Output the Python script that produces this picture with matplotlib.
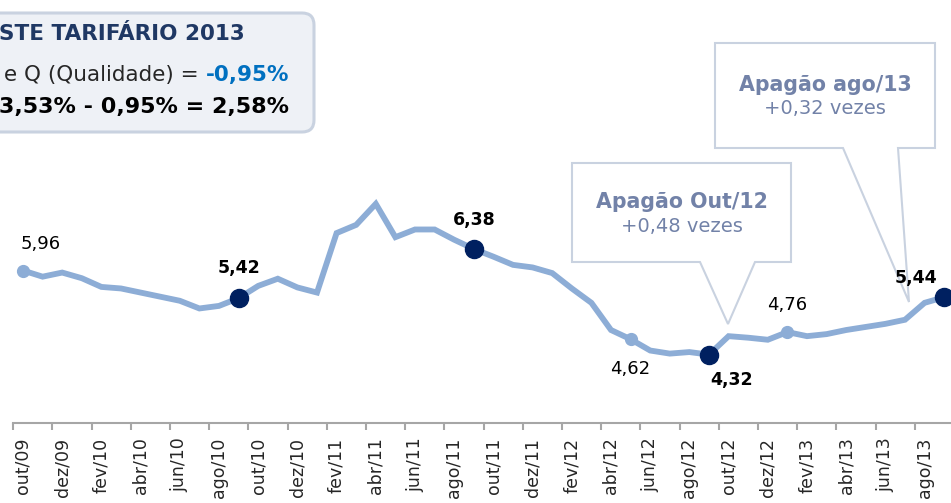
import matplotlib.pyplot as plt
from matplotlib.patches import FancyBboxPatch, Polygon

plt.rcParams['font.family'] = ['DejaVu Sans']

meses = ['out/09', 'nov/09', 'dez/09', 'jan/10', 'fev/10', 'mar/10', 'abr/10', 'mai/10',
         'jun/10', 'jul/10', 'ago/10', 'set/10', 'out/10', 'nov/10', 'dez/10', 'jan/11',
         'fev/11', 'mar/11', 'abr/11', 'mai/11', 'jun/11', 'jul/11', 'ago/11', 'set/11',
         'out/11', 'nov/11', 'dez/11', 'jan/12', 'fev/12', 'mar/12', 'abr/12', 'mai/12',
         'jun/12', 'jul/12', 'ago/12', 'set/12', 'out/12', 'nov/12', 'dez/12', 'jan/13',
         'fev/13', 'mar/13', 'abr/13', 'mai/13', 'jun/13', 'jul/13', 'ago/13', 'set/13']
valores = [5.96, 5.84, 5.92, 5.81, 5.64, 5.61, 5.53, 5.45, 5.37, 5.22, 5.27, 5.42,
           5.66, 5.80, 5.63, 5.53, 6.69, 6.85, 7.26, 6.61, 6.76, 6.76, 6.56, 6.38,
           6.23, 6.07, 6.02, 5.91, 5.61, 5.33, 4.80, 4.62, 4.40, 4.34, 4.37, 4.32,
           4.68, 4.65, 4.61, 4.76, 4.68, 4.72, 4.80, 4.86, 4.92, 5.00, 5.33, 5.44]
destaques = [11, 23, 35, 47]      # pontos escuros, rótulo em negrito
secundarios = [0, 31, 39]         # pontos claros, rótulo normal

# deslocamento dos rótulos (pixels)
desl = {0: (18, 27), 11: (0, 30), 23: (0, 29), 31: (0, -30),
        35: (23, -25), 39: (0, 27), 47: (-28, 19)}

azul_claro = '#8DADD6'
navy = '#002060'
cinza_caixa = '#C9D2E0'
texto_callout = '#7282A8'

fig = plt.figure(figsize=(9.51, 5.03), dpi=100)

# camada em pixels para caixa e balões (fica por baixo do gráfico)
ov = fig.add_axes([0, 0, 1, 1])
ov.set_xlim(0, 951)
ov.set_ylim(503, 0)
ov.axis('off')
ov.set_zorder(0)

ax = fig.add_axes([13.2 / 951, 80 / 503, 940.8 / 951, 423 / 503])
ax.set_zorder(1)
ax.patch.set_visible(False)

x = list(range(len(valores)))
ax.plot(x, valores, color=azul_claro, lw=4.2, solid_joinstyle='miter', zorder=2)
ax.plot(secundarios, [valores[i] for i in secundarios], 'o', color=azul_claro, ms=8.5, zorder=3)
ax.plot(destaques, [valores[i] for i in destaques], 'o', color=navy, ms=13, zorder=4)

for i in secundarios + destaques:
    bold = i in destaques
    txt = ('%.2f' % valores[i]).replace('.', ',')
    ax.annotate(txt, (i, valores[i]), xytext=desl[i], textcoords='offset pixels',
                ha='center', va='center', fontsize=12.5 if bold else 13,
                fontweight='bold' if bold else 'normal', color='black')

ax.set_xlim(-0.5, len(valores) - 0.5)
ax.set_ylim(2.987, 11.234)
for s in ['top', 'right', 'left']:
    ax.spines[s].set_visible(False)
ax.spines['bottom'].set_color('#A6A6A6')
ax.spines['bottom'].set_linewidth(1.5)
ax.set_yticks([])
ax.set_xticks([i - 0.5 for i in range(0, len(valores), 2)])
ax.set_xticklabels([])
ax.set_xticks(list(range(0, len(valores), 2)), minor=True)
ax.set_xticklabels(meses[::2], minor=True, rotation=90, fontsize=12.5, color='#262626')
ax.tick_params(axis='x', which='major', length=5, width=1.5, color='#A6A6A6')
ax.tick_params(axis='x', which='minor', length=0, pad=10.5)

caixa = FancyBboxPatch((-30, 13), 344, 119, boxstyle='round,pad=0,rounding_size=12',
                       fc='#EEF1F6', ec=cinza_caixa, lw=2.2)
ov.add_patch(caixa)
ov.text(245, 34, 'STE TARIFÁRIO 2013', ha='right', va='center', fontsize=15.5,
        fontweight='bold', color='#1F3864')
t = ov.text(289, 75, '-0,95%', ha='right', va='center', fontsize=15.5,
            fontweight='bold', color='#0070C0')
ov.annotate('e Q (Qualidade) = ', xy=(0, 0.5), xycoords=t, ha='right', va='center',
            fontsize=15.5, color='#262626')
ov.text(289, 107, '3,53% - 0,95% = 2,58%', ha='right', va='center', fontsize=16,
        fontweight='bold', color='black')

balao1 = [(572, 163), (791, 163), (791, 262), (755, 262), (728, 324), (700, 262), (572, 262)]
balao2 = [(715, 43), (935, 43), (935, 148), (898, 148), (909, 302), (843, 148), (715, 148)]
for b in (balao1, balao2):
    ov.add_patch(Polygon(b, closed=True, fc='white', ec=cinza_caixa, lw=1.5, joinstyle='miter'))

ov.text(682, 202, 'Apagão Out/12', ha='center', va='center', fontsize=14.8,
        fontweight='bold', color=texto_callout)
ov.text(682, 226, '+0,48 vezes', ha='center', va='center', fontsize=14, color=texto_callout)
ov.text(825, 85, 'Apagão ago/13', ha='center', va='center', fontsize=14.8,
        fontweight='bold', color=texto_callout)
ov.text(825, 108, '+0,32 vezes', ha='center', va='center', fontsize=14, color=texto_callout)

fig.savefig('out.png', dpi=100)
